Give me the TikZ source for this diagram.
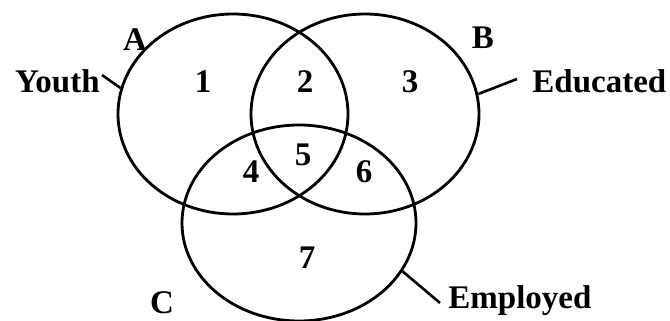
\documentclass[tikz,border=0pt]{standalone}
\usepackage{fontspec}
\setmainfont{Liberation Serif}
\usetikzlibrary{shapes.geometric}
\begin{document}
\begin{tikzpicture}[x=0.5pt,y=-0.5pt,
  setbox/.style={draw, ellipse, line width=1.4pt, inner sep=0pt},
  lbl/.style={inner sep=0pt, anchor=base, font=\fontsize{16.5}{18}\selectfont\bfseries},
  lead/.style={line width=1.3pt}]
\useasboundingbox (0,0) rectangle (670,321);
\node[setbox, minimum width=115pt, minimum height=100pt] (A) at (233,114) {};
\node[setbox, minimum width=114pt, minimum height=100pt] (B) at (365,114) {};
\node[setbox, minimum width=117pt, minimum height=98pt] (C) at (299,223) {};
\node[lbl] (la) at (135,50) {A};
\node[lbl] (lb) at (483,48) {B};
\node[lbl] (lc) at (162,313) {C};
\node[lbl] (n1) at (203,92) {1};
\node[lbl] (n2) at (305,92) {2};
\node[lbl] (n3) at (410,92) {3};
\node[lbl] (n4) at (251,182) {4};
\node[lbl] (n5) at (303,165) {5};
\node[lbl] (n6) at (364,182) {6};
\node[lbl] (n7) at (307,268) {7};
\node[lbl, anchor=base east] (youth) at (100,92) {Youth};
\node[lbl, anchor=base west] (edu) at (532,92) {Educated};
\node[lbl, anchor=base west] (emp) at (448,308) {Employed};
\draw[lead] ([xshift=1pt,yshift=8.5pt]youth.base east) -- (A.167);
\draw[lead] ([xshift=-7.5pt,yshift=6.5pt]edu.base west) -- (B.10);
\draw[lead] ([xshift=-4pt,yshift=2.5pt]emp.base west) -- (C.-25);
\end{tikzpicture}
\end{document}
